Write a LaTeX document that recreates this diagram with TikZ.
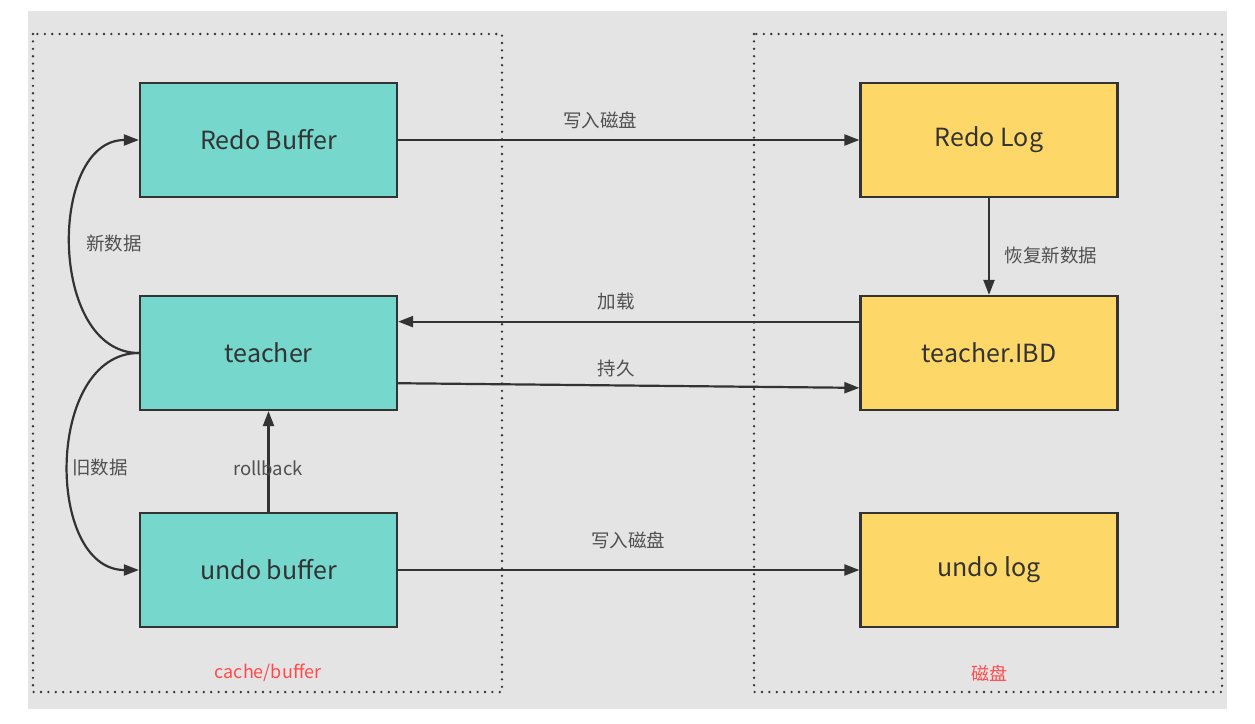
\documentclass[tikz,border=0pt]{standalone}
\usepackage{fontspec}
\setmainfont{Noto Sans CJK SC}
\usetikzlibrary{arrows.meta,calc}
\definecolor{bg}{HTML}{E4E4E4}
\definecolor{teal}{HTML}{76D8CC}
\definecolor{gold}{HTML}{FDD868}
\definecolor{edge}{HTML}{333333}
\definecolor{lbl}{HTML}{505050}
\definecolor{redlbl}{HTML}{FF4B4B}
\begin{document}
\begin{tikzpicture}[x=1pt,y=-1pt,
  box/.style={draw=edge,line width=2.2pt,minimum width=257pt,minimum height=114pt,inner sep=0pt,font=\fontsize{25}{28}\selectfont,text=edge},
  cbox/.style={box,fill=teal},
  ybox/.style={box,fill=gold},
  conn/.style={draw=edge,line width=2.2pt,-{Triangle[length=15pt,width=11pt]}},
  curve/.style={draw=edge,line width=2.2pt},
  lab/.style={font=\fontsize{18.5}{21}\selectfont,text=lbl,inner sep=0pt},
  rlab/.style={font=\fontsize{18}{21}\selectfont,text=redlbl,inner sep=0pt},
  area/.style={draw=edge,line width=2.6pt,dash pattern=on 0pt off 7.4pt,line cap=round}
]
\useasboundingbox (0,0) rectangle (1255,723);
\fill[white] (0,0) rectangle (1255,723);
\fill[bg] (28,11) rectangle (1227,709);
\draw[area] (33,34) rectangle (502,692);
\draw[area] (754,34) rectangle (1222,692);

\node[cbox] (rb) at (268.5,140) {Redo Buffer};
\node[cbox] (t) at (268.5,353) {teacher};
\node[cbox] (ub) at (268.5,570) {undo buffer};
\node[ybox] (rl) at (989,140) {Redo Log};
\node[ybox] (ti) at (989,353) {teacher.IBD};
\node[ybox] (ul) at (989,570) {undo log};

\draw[conn] (rb.east) -- (rl.west);
\draw[conn] (rl.south) -- (ti.north);
\draw[conn] ($(ti.north west)!0.23!(ti.south west)$) -- ($(t.north east)!0.23!(t.south east)$);
\draw[conn] ($(t.north east)!0.76!(t.south east)$) -- ($(ti.north west)!0.8!(ti.south west)$);
\draw[conn] (ub.east) -- (ul.west);
\draw[conn] (ub.north) -- (t.north |- t.south);

\draw[curve,-{Triangle[length=15pt,width=11pt]}] (t.west) .. controls (48,353) and (48,140) .. (rb.west);
\draw[curve,-{Triangle[length=15pt,width=11pt]}] (t.west) .. controls (45,353) and (45,570) .. (ub.west);

\node[lab] (l1) at (600,120) {写入磁盘};
\node[lab] (l2) at (1051,255) {恢复新数据};
\node[lab] (l3) at (616,301) {加载};
\node[lab] (l4) at (616,368) {持久};
\node[lab] (l5) at (114,243) {新数据};
\node[lab] (l6) at (100,467) {旧数据};
\node[lab] (l7) at (268,468) {rollback};
\node[lab] (l8) at (628,540) {写入磁盘};
\node[rlab] (c1) at (268,673) {cache/buffer};
\node[rlab] (c2) at (989,673) {磁盘};
\end{tikzpicture}
\end{document}
